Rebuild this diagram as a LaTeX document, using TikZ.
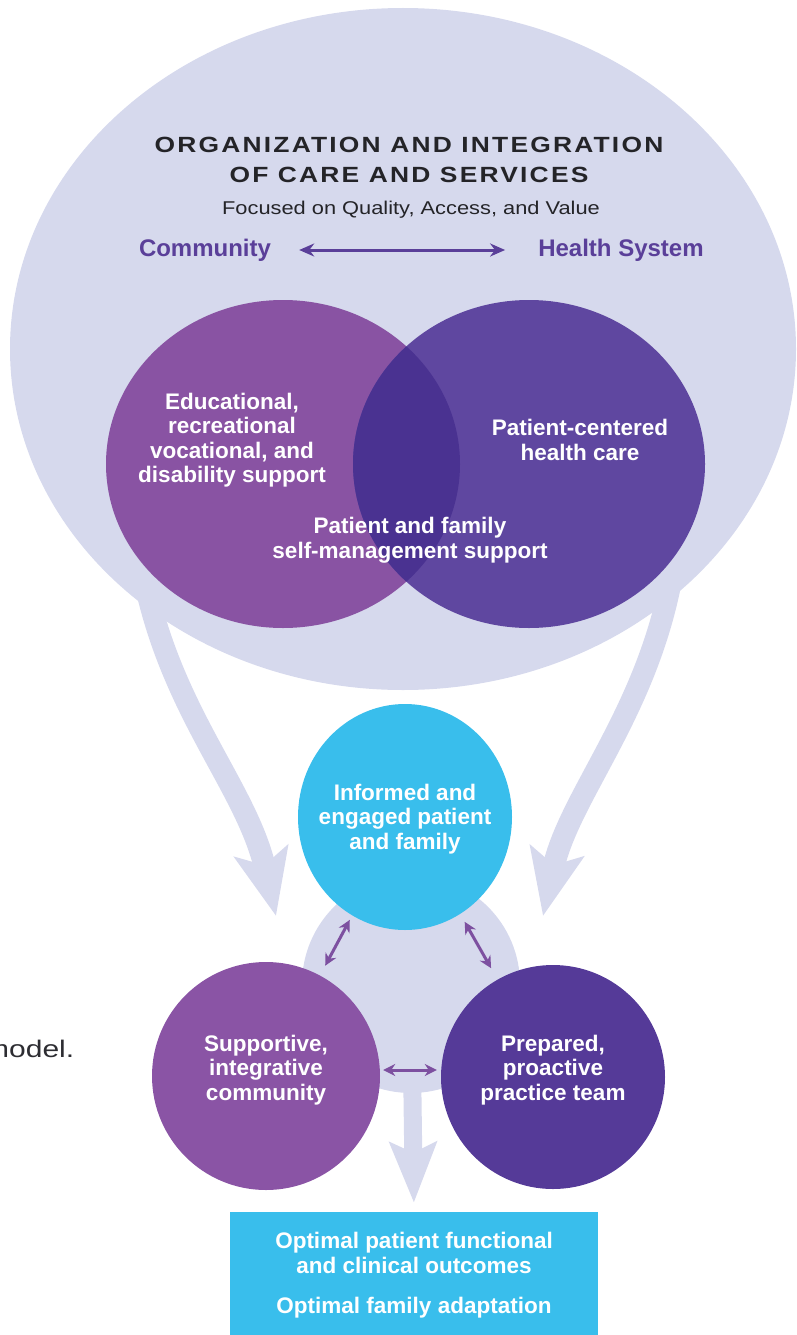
\documentclass[tikz,border=0pt]{standalone}
\usepackage{fontspec}
\setmainfont{Liberation Sans}
\newfontfamily\titlefont[FakeStretch=1.2,LetterSpace=10]{Liberation Sans}
\newfontfamily\subfont[FakeStretch=1.18]{Liberation Sans}
\newfontfamily\capfont[FakeStretch=1.25]{Liberation Sans}
\usetikzlibrary{arrows.meta,shapes.geometric}
\definecolor{lav}{RGB}{214,217,237}
\definecolor{vennL}{RGB}{137,83,163}
\definecolor{vennR}{RGB}{95,71,160}
\definecolor{vennM}{RGB}{74,50,145}
\definecolor{cyanc}{RGB}{57,190,236}
\definecolor{smallL}{RGB}{138,84,165}
\definecolor{smallR}{RGB}{85,58,152}
\definecolor{txtpurple}{RGB}{90,63,153}
\definecolor{arrpurple}{RGB}{125,80,160}
\definecolor{titlec}{RGB}{36,36,40}
\definecolor{capgray}{RGB}{45,45,50}
\tikzset{
  bodytext/.style={text=white, font=\bfseries\fontsize{22.5}{24.5}\selectfont, align=center, inner sep=0pt},
  bigarrow/.style={draw=lav, line width=22pt, -{Stealth[length=66pt,width=54pt,inset=14pt]}},
  downarrow/.style={draw=lav, line width=18pt, -{Stealth[length=60pt,width=46pt,inset=10pt]}},
  smallarrow/.style={draw=arrpurple, line width=3pt, {Stealth[length=12pt,width=12pt]}-{Stealth[length=12pt,width=12pt]}},
  toparrow/.style={draw=txtpurple, line width=3pt, {Stealth[length=15pt,width=13pt]}-{Stealth[length=15pt,width=13pt]}},
  disc/.style={circle, inner sep=0pt, draw=none},
  oval/.style={ellipse, inner sep=0pt, draw=none},
  label/.style={font=\bfseries\fontsize{24}{26}\selectfont, text=txtpurple, inner sep=0pt},
}
\begin{document}
\begin{tikzpicture}[x=1pt,y=-1pt]
\useasboundingbox (0,0) rectangle (796,1335);
% big curved arrows (their tails hidden under the ellipse)
\coordinate (la0) at (138,540);
\coordinate (la1) at (276,916);
\coordinate (ra0) at (677,540);
\coordinate (ra1) at (543,916);
\draw[bigarrow] (la0) .. controls (158,700) and (245,780) .. (la1);
\draw[bigarrow] (ra0) .. controls (660,700) and (570,790) .. (ra1);
% big ellipse
\node[oval, fill=lav, minimum width=786pt, minimum height=682pt] (org) at (403,349) {};
% Venn
\node[oval, fill=vennL, minimum width=354pt, minimum height=328pt] (vl) at (283,464) {};
\node[oval, fill=vennR, minimum width=352pt, minimum height=328pt] (vr) at (529,464) {};
\begin{scope}
  \clip (vl.center) ellipse [x radius=177, y radius=164];
  \fill[vennM] (vr.center) ellipse [x radius=176, y radius=164];
\end{scope}
\node[bodytext] (t1) at (232,440) {Educational,\\recreational\\vocational, and\\disability support};
\node[bodytext] (t2) at (580,440) {Patient-centered\\health care};
\node[bodytext] (t3) at (410,540) {Patient and family\\self-management support};
% title
\node[text=titlec, font=\titlefont\bfseries\fontsize{22}{30}\selectfont, align=center] (title) at (409,160) {ORGANIZATION AND INTEGRATION\\OF CARE AND SERVICES};
\node[text=titlec, font=\subfont\fontsize{18.5}{20}\selectfont] (sub) at (411,210) {Focused on Quality, Access, and Value};
\node[label] (comm) at (205,250) {Community};
\node[label] (hs) at (621,250) {Health System};
\draw[toparrow, shorten <=28pt, shorten >=33pt] (comm.east) -- (hs.west);
% trio
\node[disc, fill=lav, minimum size=218pt] (bg) at (411,984) {};
\node[draw=none, fill=cyanc, minimum width=368pt, minimum height=123pt, inner sep=0pt] (box) at (414,1273.5) {};
\draw[downarrow, shorten >=9pt] (bg.center) -- (box.north);
\node[oval, fill=cyanc, minimum width=214pt, minimum height=226pt] (cy) at (405,817) {};
\node[disc, fill=smallL, minimum size=228pt] (sl) at (266,1076) {};
\node[disc, fill=smallR, minimum size=224pt] (sr) at (553,1077) {};
\node[bodytext] (cyt) at (405,819) {Informed and\\engaged patient\\and family};
\node[bodytext] (slt) at (266,1070) {Supportive,\\integrative\\community};
\node[bodytext] (srt) at (553,1070) {Prepared,\\proactive\\practice team};
\draw[smallarrow, shorten <=5pt, shorten >=11pt] (cy) -- (sl);
\draw[smallarrow, shorten <=9pt, shorten >=13pt] (cy) -- (sr);
\draw[smallarrow, shorten <=3pt, shorten >=4pt] ([yshift=6pt]sl.east) -- ([yshift=7pt]sr.west);
% outcomes
\node[bodytext] (out) at ([yshift=-2pt]box.center) {Optimal patient functional\\and clinical outcomes\\[16pt]Optimal family adaptation};
% caption fragment at the left edge (cut off in the source too)
\node[anchor=base west, text=capgray, font=\capfont\fontsize{24}{26}\selectfont, inner sep=0pt] (cap) at (-16,1057) {model.};
\end{tikzpicture}
\end{document}
